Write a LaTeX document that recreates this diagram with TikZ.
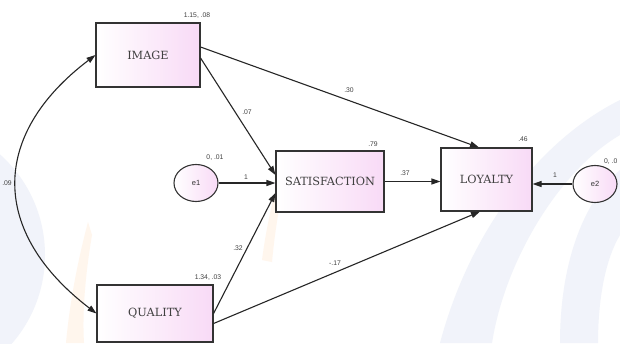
\documentclass[tikz,border=0pt]{standalone}
\usepackage{fontspec}
\setmainfont{DejaVu Serif}
\newfontfamily\labfont{Liberation Sans}
\usetikzlibrary{arrows.meta,shapes.geometric}
\definecolor{boxpink}{RGB}{248,218,246}
\definecolor{wmblue}{RGB}{241,243,250}
\definecolor{wmorange}{RGB}{255,246,237}
\begin{document}
\begin{tikzpicture}[x=1pt,y=-1pt,
  varbox/.style={draw, line width=1.1pt, black!80, left color=white, right color=boxpink,
    inner sep=0pt, font=\fontsize{11.3}{13}\selectfont, text=black!75},
  errnode/.style={draw, ellipse, line width=1.1pt, black!80, left color=white, right color=boxpink,
    inner sep=0pt, minimum width=44pt, minimum height=37pt, font=\labfont\fontsize{7.5}{9}\selectfont, text=black!80},
  lab/.style={font=\labfont\fontsize{6.8}{8}\selectfont, text=black!75, inner sep=0pt},
  arr/.style={draw, line width=1.1pt, black!85, -{Triangle[length=9pt,width=6pt]}},
  cov/.style={draw, line width=1.1pt, black!85, {Triangle[length=9pt,width=6pt]}-{Triangle[length=9pt,width=6pt]}}]
\fill[white] (0,0) rectangle (620,343);
\useasboundingbox (0,0) rectangle (620,343);
\begin{scope}
\clip (0,0) rectangle (620,343);
% watermark
\fill[wmblue] (-90,255) circle (135);
\fill[wmblue] (440,343) .. controls (470,230) and (540,140) .. (620,100) -- (620,135) .. controls (560,170) and (505,260) .. (492,343) -- cycle;
\fill[wmblue] (560,343) .. controls (560,260) and (585,200) .. (620,170) -- (620,235) .. controls (605,260) and (598,300) .. (598,343) -- cycle;
\fill[wmorange] (66,343) .. controls (70,300) and (78,260) .. (88,222) -- (92,235) .. controls (86,270) and (82,310) .. (84,343) -- cycle;
\fill[wmorange] (262,260) .. controls (266,230) and (272,200) .. (282,168) -- (284,185) .. controls (278,210) and (274,240) .. (272,262) -- cycle;
\end{scope}

% variables
\node[varbox, minimum width=104pt, minimum height=64pt] (img) at (148,55) {IMAGE};
\node[varbox, minimum width=108pt, minimum height=61pt] (sat) at (330,181.5) {SATISFACTION};
\node[varbox, minimum width=91pt, minimum height=63pt] (loy) at (486.5,179.5) {LOYALTY};
\node[varbox, minimum width=116pt, minimum height=57pt] (qual) at (155,313.5) {QUALITY};
\node[errnode] (e1) at (196,183) {e1};
\node[errnode] (e2) at (595,184) {e2};

% paths
\draw[arr] ([yshift=8pt]img.east) -- ([xshift=-7.5pt]loy.north);
\draw[arr] ([yshift=-3pt]img.east) -- ([yshift=6.5pt]sat.west);
\draw[arr] (e1.east) -- (e1.east -| sat.west);
\draw[arr] (qual.east) -- ([yshift=-11.5pt]sat.west);
\draw[arr] ([yshift=-10pt]qual.east) -- ([xshift=-6.5pt]loy.south);
\draw[arr] (sat.east) -- (sat.east -| loy.west);
\draw[arr] (e2.west) -- (e2.west -| loy.east);
\draw[cov] (img.west) .. controls (-10,135) and (-10,232) .. (qual.west);

% labels
\node[lab] (limg) at (197,16) {1.15, .08};
\node[lab] (lq) at (208,278) {1.34, .03};
\node[lab] (le1) at (215,158) {0, .01};
\node[lab] (le2) at (604,162) [anchor=west] {0, .0};
\node[lab] (lsat) at (373,144) {.79};
\node[lab] (lloy) at (523,139) {.46};
\node[lab] (p1) at (349,90) {.30};
\node[lab] (p2) at (247,112) {.07};
\node[lab] (p3) at (246,177) {1};
\node[lab] (p4) at (238,248) {.32};
\node[lab] (p5) at (335,263) {-.17};
\node[lab] (p6) at (405,173) {.37};
\node[lab] (p7) at (555,175) {1};
\node[lab] (p8) at (7,183) {.09};
\end{tikzpicture}
\end{document}
